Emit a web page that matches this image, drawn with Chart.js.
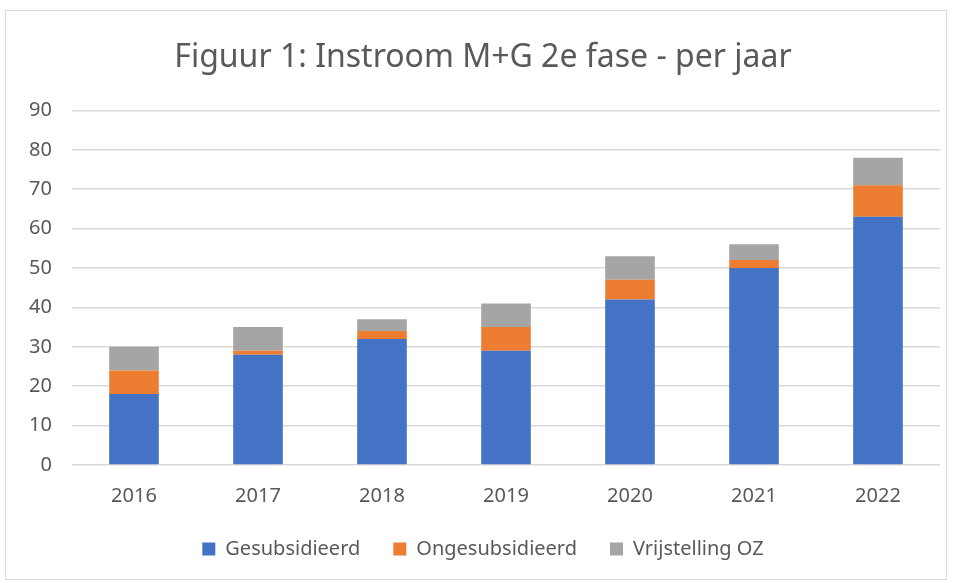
<!DOCTYPE html>
<html>
<head>
<meta charset="utf-8">
<script src="https://cdn.jsdelivr.net/npm/chart.js@4/dist/chart.umd.min.js"></script>
<style>
  html, body { margin: 0; padding: 0; background: #fff; }
  #frame {
    position: absolute; left: 5px; top: 10px;
    width: 942px; height: 570px;
    border: 1px solid #d9d9d9; box-sizing: border-box;
    overflow: hidden;
  }
  #chart { display: block; }
</style>
</head>
<body>
<div id="frame"><canvas id="chart" width="940" height="568"></canvas></div>
<script>
const years = ["2016", "2017", "2018", "2019", "2020", "2021", "2022"];
const gesubsidieerd = [18, 28, 32, 29, 42, 50, 63];
const ongesubsidieerd = [6, 1, 2, 6, 5, 2, 8];
const vrijstellingOZ = [6, 6, 3, 6, 6, 4, 7];

const FONT = "'Noto Sans', 'Open Sans', sans-serif";
const TXT = "#595959";

Chart.defaults.animation = false;
Chart.defaults.font.family = FONT;
Chart.defaults.color = TXT;

const ds = (label, data, color) => ({
  label, data,
  backgroundColor: color,
  borderWidth: 0,
  categoryPercentage: 1,
  barPercentage: 0.4
});

new Chart(document.getElementById("chart"), {
  type: "bar",
  data: {
    labels: years,
    datasets: [
      ds("Gesubsidieerd", gesubsidieerd, "#4472c4"),
      ds("Ongesubsidieerd", ongesubsidieerd, "#ed7d31"),
      ds("Vrijstelling OZ", vrijstellingOZ, "#a5a5a5")
    ]
  },
  options: {
    responsive: false,
    layout: { padding: { left: 20, right: 6, top: 12, bottom: 10 } },
    plugins: {
      title: {
        display: true,
        text: "Figuur 1: Instroom M+G 2e fase - per jaar",
        font: { size: 32, weight: "normal" },
        color: TXT,
        padding: { top: 16, bottom: 33 }
      },
      legend: {
        position: "bottom",
        labels: { boxWidth: 13, boxHeight: 13, font: { size: 20 }, padding: 33 }
      },
      tooltip: { enabled: false }
    },
    scales: {
      x: {
        stacked: true,
        grid: { display: false, drawTicks: false },
        border: { display: false },
        ticks: { font: { size: 20 }, padding: 19 },
        afterFit: s => { s.height = 41; }
      },
      y: {
        stacked: true,
        min: 0, max: 90,
        ticks: { stepSize: 10, font: { size: 20 }, padding: 20 },
        grid: { color: "#d9d9d9", lineWidth: 1.5, drawTicks: false },
        border: { display: false },
        afterFit: s => { s.width = 46; }
      }
    }
  }
});
</script>
</body>
</html>
